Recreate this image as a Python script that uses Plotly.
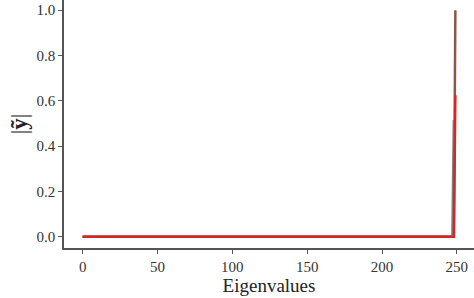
import plotly.graph_objects as go

# Spectral magnitudes |y~| per eigenvalue index (~0 everywhere except last index)
x_full = list(range(250))
x_gray = list(range(249))
brown_vals = [0.0] * 249 + [1.0]
gray_vals = [0.0] * 248 + [0.515]
red_vals = [0.0] * 249 + [0.625]

x_ticks = [0, 50, 100, 150, 200, 250]
y_ticks = [0.0, 0.2, 0.4, 0.6, 0.8, 1.0]
y_tick_text = ["0.0", "0.2", "0.4", "0.6", "0.8", "1.0"]

fig = go.Figure()
fig.add_trace(go.Scatter(x=x_full, y=brown_vals, mode="lines",
                         line=dict(color="#8c564b", width=2.5)))
fig.add_trace(go.Scatter(x=x_gray, y=gray_vals, mode="lines",
                         line=dict(color="#7f7f7f", width=2.5)))
fig.add_trace(go.Scatter(x=x_full, y=red_vals, mode="lines",
                         line=dict(color="#d62728", width=2.5)))

font_family = '"Liberation Serif", "Times New Roman", serif'
fig.update_layout(
    width=474, height=298,
    margin=dict(l=64, r=0, t=0, b=50),
    paper_bgcolor="white", plot_bgcolor="white",
    showlegend=False,
    font=dict(family=font_family, size=15, color="#333333"),
    xaxis=dict(
        range=[-12.45, 261.45], tickvals=x_ticks,
        showgrid=False, zeroline=False, automargin=False,
        showline=True, linecolor="#555555", linewidth=1.5,
        ticks="outside", ticklen=4, tickcolor="#555555",
        title=dict(text="Eigenvalues", font=dict(family=font_family, size=19, color="#222222"), standoff=0),
    ),
    yaxis=dict(
        range=[-0.05, 1.045], tickvals=y_ticks, ticktext=y_tick_text,
        showgrid=False, zeroline=False, automargin=False,
        showline=True, linecolor="#555555", linewidth=1.5,
        ticks="outside", ticklen=4, tickcolor="#555555",
        title=dict(text="|<b>ỹ</b>|", font=dict(family=font_family, size=23, color="#222222"), standoff=2),
    ),
)

fig.write_html("out.html", config={"displayModeBar": False},
               post_script="document.body.style.margin='0';document.body.style.padding='0';")
